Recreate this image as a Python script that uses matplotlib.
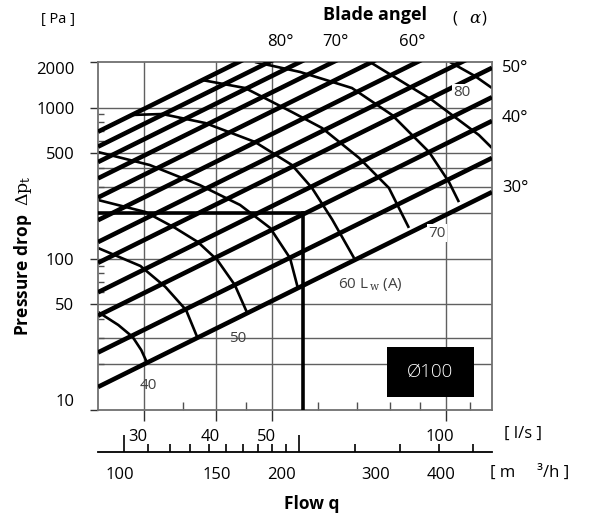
import matplotlib.pyplot as plt
import matplotlib.transforms as mtransforms
from matplotlib.patches import Rectangle

plt.rcParams['font.family'] = ['Open Sans', 'DejaVu Sans']
plt.rcParams['mathtext.fontset'] = 'dejavuserif'

# blade angle lines, pressure drop [Pa] read at the chart edges 25 l/s and 120 l/s
blade_angles = [85, 80, 75, 70, 65, 60, 55, 50, 45, 40, 35, 30]
blade_q = [25, 120]
blade_p_left = [692, 551, 436, 340, 254, 180, 129, 94, 60, 42, 24, 14.2]
blade_p_right = [13480, 10730, 8500, 6610, 4950, 3510, 2510, 1830, 1170, 815, 464, 276]

# sound power level curves L_w(A): flow [l/s] and pressure drop [Pa]
lw_levels = [40, 45, 50, 55, 60, 65, 70, 75, 80]
lw_q = {
    40: [25.0, 27.1, 28.7, 29.7, 30.4],
    45: [25.0, 29.6, 32.7, 35.5, 37.1],
    50: [25.0, 30.2, 34.0, 37.2, 40.2, 43.1, 45.2],
    55: [25.0, 30.7, 37.5, 44.0, 49.6, 53.7, 55.4],
    60: [28.6, 32.3, 38.3, 46.7, 54.1, 58.6, 63.5, 69.3],
    65: [37.8, 44.9, 54.1, 61.0, 70.7, 79.6, 86.2],
    70: [46.7, 55.9, 68.7, 80.6, 93.4, 101.1, 105.2],
    75: [73.8, 94.5, 113.9, 120],
    80: [101.5, 112.1, 120],
}
lw_p = {
    40: [44.5, 36.5, 30.4, 24.9, 20.5],
    45: [117.8, 89.6, 65.1, 45.8, 30.4],
    50: [244.7, 203.8, 159.7, 129.1, 98.1, 67.1, 44.5],
    55: [508, 417, 307, 227, 160, 101, 64],
    60: [893, 906, 790, 592, 417, 294, 182, 101],
    65: [1521, 1346, 934, 732, 464, 294, 160],
    70: [2000, 1718, 1346, 893, 508, 322, 237],
    75: [2000, 1121, 658, 540],
    80: [2000, 1616, 1346],
}
# label positions for the sound curves (flow, pressure)
lw_label_text = ['40', '50', r'60 L$_{\,\mathrm{w}}$ (A)', '70', '80']
lw_label_q = [30.5, 43.6, 73.8, 96.4, 106.5]
lw_label_p = [14.6, 29.5, 67.1, 148, 1248]
lw_label_box = [False, False, False, True, True]

# working point
op_flow = 56.5
op_dp = 200

# axes ticks and grid
p_ticks = [10, 50, 100, 500, 1000, 2000]
p_minor = [20, 30, 40, 60, 70, 80, 90, 200, 300, 400, 600, 700, 800, 900]
p_grid = [20, 30, 50, 100, 200, 300, 400, 500, 1000]
q_ticks = [30, 40, 50, 100]
q_minor = [35, 45, 60, 70, 80, 90, 110]
m3h_ticks = [100, 150, 200, 300, 400]
m3h_long = [100, 200]
m3h_minor = [110, 120, 130, 140, 160, 170, 180, 190, 250, 350]
# the printed labels of the m3/h scale sit left of their ticks (pixels)
m3h_label_shift = [-5, -10, -17, -25, -32]

fig = plt.figure(figsize=(5.92, 5.18), dpi=100)
ax = fig.add_axes([98 / 592, 1 - 410 / 518, 394 / 592, 348 / 518])
ax.set_xscale('log')
ax.set_yscale('log')
ax.set_xlim(25, 120)
ax.set_ylim(10, 2000)

for p in p_grid:
    ax.axhline(p, color='#606060', lw=1.0, zorder=1)
for q in q_ticks:
    ax.axvline(q, color='#606060', lw=1.0, zorder=1)

for lev in lw_levels:
    ax.plot(lw_q[lev], lw_p[lev], color='black', lw=1.9, zorder=2,
            solid_joinstyle='round', solid_capstyle='butt')

for pl, pr in zip(blade_p_left, blade_p_right):
    ax.plot(blade_q, [pl, pr], color='black', lw=3.3, zorder=3,
            solid_capstyle='butt')

ax.plot([op_flow, op_flow], [10, op_dp], color='black', lw=2.6, zorder=4)
ax.plot([25, op_flow], [op_dp, op_dp], color='black', lw=2.6, zorder=4)

for txt, q, p, boxed in zip(lw_label_text, lw_label_q, lw_label_p, lw_label_box):
    t = ax.text(q, p, txt, fontsize=11, color='#404040', ha='center',
                va='center', zorder=5)
    if boxed:
        t.set_bbox(dict(facecolor='white', edgecolor='none', pad=1))

ax.add_patch(Rectangle((0.7335, 0.037), 0.2205, 0.144, transform=ax.transAxes,
                       facecolor='black', edgecolor='none', zorder=6))
ax.text(0.8438, 0.109, 'Ø100', transform=ax.transAxes, color='white',
        fontsize=13.5, fontweight='light', ha='center', va='center', zorder=7)

for s in ax.spines.values():
    s.set_color('#707070')
    s.set_linewidth(1.3)

ax.set_yticks(p_ticks)
ax.set_yticklabels([str(v) for v in p_ticks])
ax.set_yticks(p_minor, minor=True)
ax.yaxis.set_minor_formatter(plt.NullFormatter())
ax.tick_params(axis='y', which='major', direction='out', length=6,
               width=1, color='#303030', labelsize=12, pad=11)
ax.tick_params(axis='y', which='minor', direction='in', length=4,
               width=1, color='#505050')
ylabels = ax.get_yticklabels()
ylabels[-1].set_va('top')
ylabels[0].set_va('bottom')

ax.set_xticks(q_ticks)
ax.set_xticklabels([str(v) for v in q_ticks])
ax.set_xticks(q_minor, minor=True)
ax.xaxis.set_minor_formatter(plt.NullFormatter())
ax.tick_params(axis='x', which='major', direction='out', length=8,
               width=1, color='#303030', labelsize=12, pad=6)
ax.tick_params(axis='x', which='minor', direction='in', length=6,
               width=1, color='#505050')
for lab in ax.get_xticklabels():
    lab.set_transform(lab.get_transform() +
                      mtransforms.ScaledTranslation(-6 / 100, 0, fig.dpi_scale_trans))

sec = ax.secondary_xaxis(-0.1207, functions=(lambda q: q * 3.6,
                                             lambda m: m / 3.6))
sec.set_xticks(m3h_ticks)
sec.set_xticklabels([str(v) for v in m3h_ticks])
sec.set_xticks(m3h_minor, minor=True)
sec.xaxis.set_minor_formatter(plt.NullFormatter())
sec.tick_params(axis='x', which='both', direction='in', length=6, width=1.2,
                color='black', labelsize=12, pad=11)
for t, v, dx in zip(sec.xaxis.get_major_ticks(), m3h_ticks, m3h_label_shift):
    if v in m3h_long:
        t.tick1line.set_markersize(12)
    t.label1.set_transform(t.label1.get_transform() +
                           mtransforms.ScaledTranslation(dx / 100, 0, fig.dpi_scale_trans))
sec.spines['bottom'].set_linewidth(1.3)

fig.text(58 / 592, 1 - 20 / 518, '[ Pa ]', fontsize=10.5, ha='center', va='center')
fig.text(375 / 592, 1 - 15 / 518, 'Blade angel', fontsize=13, fontweight='bold',
         ha='center', va='center')
fig.text(470 / 592, 1 - 18 / 518, r'(   $\alpha$)', fontsize=12, ha='center',
         va='center')
for txt, x in zip(['80°', '70°', '60°'], [280, 335, 412]):
    fig.text(x / 592, 1 - 42 / 518, txt, fontsize=12, ha='center', va='center')
for txt, y in zip(['50°', '40°', '30°'], [68, 118, 188]):
    fig.text(502 / 592, 1 - y / 518, txt, fontsize=12, ha='left', va='center')
fig.text(23 / 592, 1 - 256 / 518, r'Pressure drop  $\Delta\mathrm{p}_\mathrm{t}$',
         fontsize=12.5, fontweight='bold', rotation=90, ha='center', va='center')
fig.text(523 / 592, 1 - 434 / 518, '[ l/s ]', fontsize=12, ha='center', va='center')
fig.text(530 / 592, 1 - 473 / 518, '[ m     ³/h ]', fontsize=12, ha='center',
         va='center')
fig.text(312 / 592, 1 - 504 / 518, 'Flow q', fontsize=12.5, fontweight='bold',
         ha='center', va='center')

fig.savefig('out.png', dpi=100)
